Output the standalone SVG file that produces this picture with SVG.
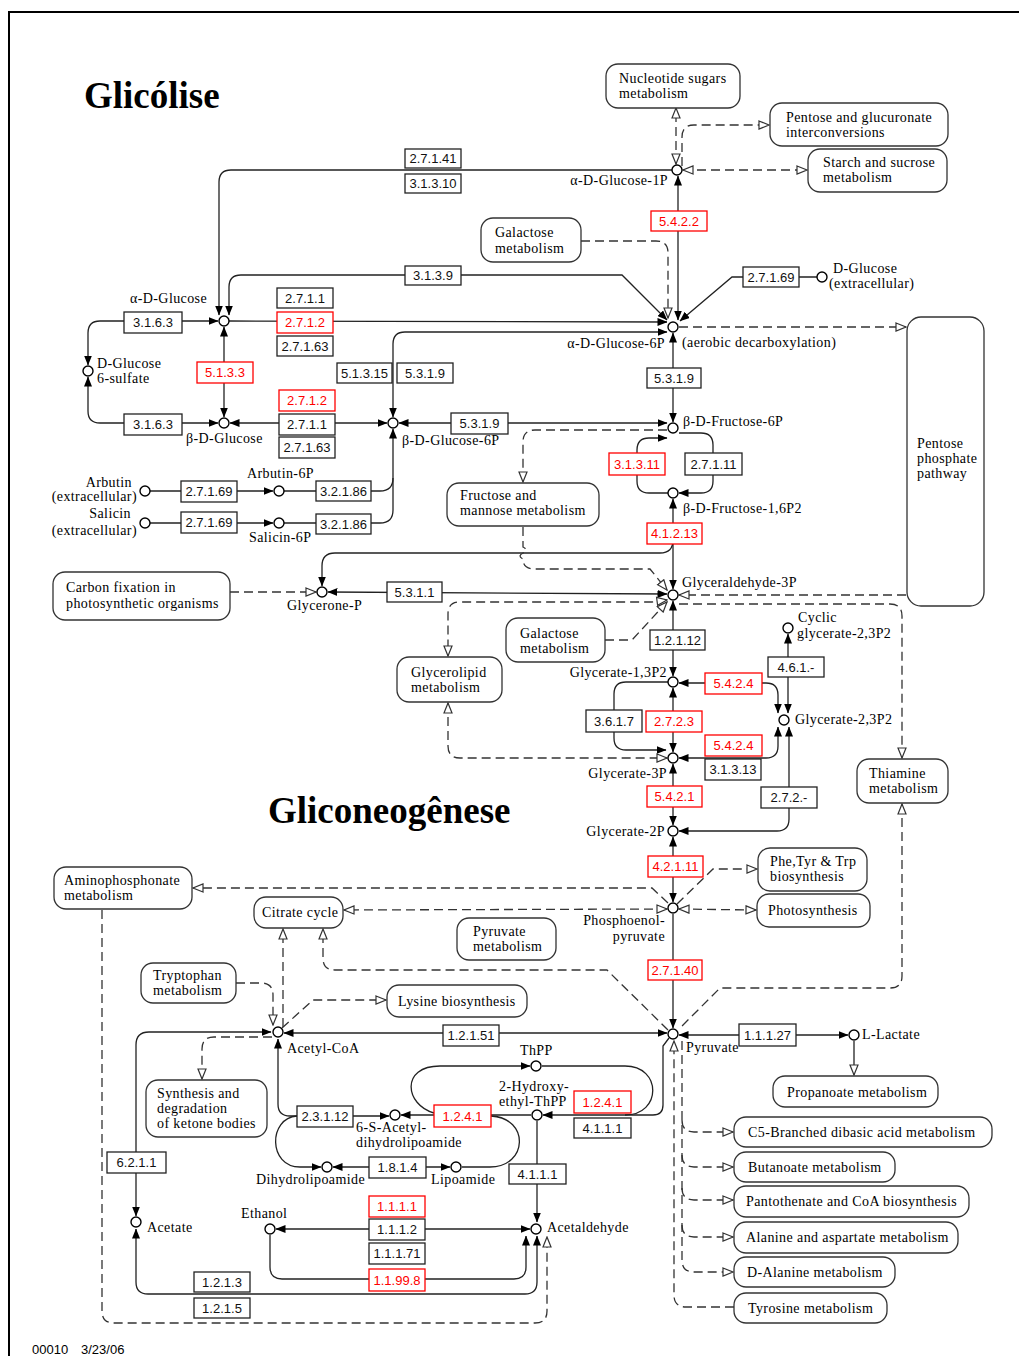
<svg xmlns="http://www.w3.org/2000/svg" width="1019" height="1356" viewBox="0 0 1019 1356">
<style>
.lbl{font-family:"Liberation Serif","Times New Roman",serif;font-size:14px;letter-spacing:0.4px;fill:#000}
.ttl{font-family:"Liberation Serif","Times New Roman",serif;font-size:37px;font-weight:bold;fill:#000}
.ec{font-family:"Liberation Sans",Arial,sans-serif;font-size:13px;text-anchor:middle;fill:#111}
.eb rect{fill:#fff;stroke:#222;stroke-width:1.3}
.eb.r rect{stroke:#f00}
.eb.r text{fill:#f00}
.mp rect{fill:#fff;stroke:#333;stroke-width:1.3}
.cpd circle{fill:#fff;stroke:#000;stroke-width:1.4}
.c{fill:none;stroke:#222;stroke-width:1.3}
.d{fill:none;stroke:#333;stroke-width:1.3;stroke-dasharray:9 5}
.ft{font-family:"Liberation Sans",Arial,sans-serif;font-size:13px;fill:#000}
</style>
<defs>
<marker id="s" viewBox="0 0 10 8" refX="9.5" refY="4" markerWidth="10" markerHeight="8" orient="auto-start-reverse" markerUnits="userSpaceOnUse"><path d="M0,0 L10,4 L0,8 z" fill="#000"/></marker>
<marker id="o" viewBox="0 0 12 10" refX="11" refY="5" markerWidth="12" markerHeight="10" orient="auto-start-reverse" markerUnits="userSpaceOnUse"><path d="M1,1 L11,5 L1,9 z" fill="#fff" stroke="#333" stroke-width="1.2"/></marker>
</defs>
<rect width="1019" height="1356" fill="#fff"/>
<path d="M9 1356 L9 12 L1019 12" fill="none" stroke="#000" stroke-width="2"/>
<text class="ttl" x="84" y="108">Glicólise</text>
<text class="ttl" x="268" y="823">Gliconeogênese</text>
<text class="ft" x="32" y="1354">00010</text>
<text class="ft" x="81" y="1354">3/23/06</text>

<g id="connectors">
<path class="c" d="M672 170 L231 170 Q219 170 219 182 L219 315" marker-end="url(#s)"/>
<path class="c" d="M229 315 L229 287 Q229 275 241 275 L622 275 L667 320" marker-start="url(#s)" marker-end="url(#s)"/>
<path class="c" d="M229 321 L667 322" marker-end="url(#s)"/>
<path class="c" d="M667 332 L405 332 Q393 332 393 344 L393 417" marker-start="url(#s)" marker-end="url(#s)"/>
<path class="c" d="M678 176 L678 320" marker-start="url(#s)" marker-end="url(#s)"/>
<path class="c" d="M817 277 L732 277 L680 321" marker-end="url(#s)"/>
<path class="c" d="M673 333 L673 422" marker-start="url(#s)" marker-end="url(#s)"/>
<path class="c" d="M399 423 L667 423" marker-start="url(#s)" marker-end="url(#s)"/>
<path class="c" d="M88 365 L88 333 Q88 321 100 321 L218 321" marker-start="url(#s)" marker-end="url(#s)"/>
<path class="c" d="M88 377 L88 411 Q88 423 100 423 L218 423" marker-start="url(#s)" marker-end="url(#s)"/>
<path class="c" d="M224 327 L224 417" marker-start="url(#s)" marker-end="url(#s)"/>
<path class="c" d="M230 423 L387 423" marker-start="url(#s)" marker-end="url(#s)"/>
<path class="c" d="M150 491 L273 491" marker-end="url(#s)"/>
<path class="c" d="M150 523 L273 523" marker-end="url(#s)"/>
<path class="c" d="M284 491 L380 491 Q393 491 393 478 L393 429" marker-end="url(#s)"/>
<path class="c" d="M284 523 L380 523 Q393 523 393 510 L393 478"/>
<path class="c" d="M668 493 L649 493 Q637 493 637 481 L637 450 Q637 438 649 438 L667 438" marker-end="url(#s)"/>
<path class="c" d="M679 433 L701 433 Q713 433 713 445 L713 481 Q713 493 701 493 L679 493" marker-end="url(#s)"/>
<path class="c" d="M673 499 L673 589" marker-start="url(#s)" marker-end="url(#s)"/>
<path class="c" d="M673 540 Q673 553 660 553 L335 553 Q322 553 322 566 L322 586" marker-end="url(#s)"/>
<path class="c" d="M328 592 L667 594" marker-start="url(#s)" marker-end="url(#s)"/>
<path class="c" d="M673 601 L673 676" marker-start="url(#s)" marker-end="url(#s)"/>
<path class="c" d="M673 688 L673 752" marker-start="url(#s)" marker-end="url(#s)"/>
<path class="c" d="M668 682 L626 682 Q614 682 614 694 L614 738 Q614 750 626 750 L666 750" marker-end="url(#s)"/>
<path class="c" d="M679 683 L766 683 Q778 683 778 695 L778 713" marker-start="url(#s)" marker-end="url(#s)"/>
<path class="c" d="M788 634 L788 713" marker-start="url(#s)" marker-end="url(#s)"/>
<path class="c" d="M778 727 L778 746 Q778 758 766 758 L679 758" marker-start="url(#s)" marker-end="url(#s)"/>
<path class="c" d="M789 727 L789 819 Q789 831 777 831 L679 831" marker-start="url(#s)" marker-end="url(#s)"/>
<path class="c" d="M673 764 L673 825" marker-start="url(#s)" marker-end="url(#s)"/>
<path class="c" d="M673 837 L673 902" marker-start="url(#s)" marker-end="url(#s)"/>
<path class="c" d="M673 914 L673 1028" marker-end="url(#s)"/>
<path class="c" d="M284 1033 L667 1033" marker-start="url(#s)" marker-end="url(#s)"/>
<path class="c" d="M679 1035 L848 1035" marker-start="url(#s)" marker-end="url(#s)"/>
<path class="c" d="M136 1216 L136 1045 Q136 1032 149 1032 L271 1032" marker-start="url(#s)" marker-end="url(#s)"/>
<path class="c" d="M278 1039 L278 1104 Q278 1116 290 1116 L389 1116" marker-start="url(#s)" marker-end="url(#s)"/>
<path class="c" d="M297 1116 C268 1118 268 1167 300 1167 L321 1167" marker-end="url(#s)"/>
<path class="c" d="M401 1115 L531 1115" marker-start="url(#s)"/>
<path class="c" d="M434 1113 C405 1105 400 1066 440 1066 L530 1066" marker-end="url(#s)"/>
<path class="c" d="M542 1066 L625 1066 C662 1066 662 1115 625 1115"/>
<path class="c" d="M491 1116 C530 1118 528 1167 490 1167 L462 1167"/>
<path class="c" d="M669 1038 L663 1046 L663 1105 Q663 1115 653 1115 L543 1115" marker-end="url(#s)"/>
<path class="c" d="M333 1167 L450 1167" marker-start="url(#s)" marker-end="url(#s)"/>
<path class="c" d="M537 1121 L537 1222" marker-end="url(#s)"/>
<path class="c" d="M276 1229 L530 1229" marker-start="url(#s)" marker-end="url(#s)"/>
<path class="c" d="M270 1235 L270 1267 Q270 1279 282 1279 L514 1279 Q526 1279 526 1267 L526 1236" marker-end="url(#s)"/>
<path class="c" d="M136 1229 L136 1282 Q136 1294 148 1294 L525 1294 Q537 1294 537 1282 L537 1236" marker-start="url(#s)" marker-end="url(#s)"/>
<path class="c" d="M854 1041 L854 1075" marker-end="url(#o)"/>
<path class="d" d="M676 164 L676 108" marker-start="url(#o)" marker-end="url(#o)"/>
<path class="d" d="M682 166 L682 137 Q682 125 694 125 L769 125" marker-end="url(#o)"/>
<path class="d" d="M683 170 L807 170" marker-start="url(#o)" marker-end="url(#o)"/>
<path class="d" d="M581 241 L656 241 Q668 241 668 253 L668 318" marker-end="url(#o)"/>
<path class="d" d="M679 327 L906 327" marker-end="url(#o)"/>
<path class="d" d="M906 595 L679 595" marker-end="url(#o)"/>
<path class="d" d="M679 604 L890 604 Q902 604 902 616 L902 758" marker-end="url(#o)"/>
<path class="d" d="M902 804 L902 976 Q902 988 890 988 L720 988 L679 1029" marker-start="url(#o)"/>
<path class="d" d="M667 600 L652 602 L460 602 Q448 602 448 614 L448 656" marker-start="url(#o)" marker-end="url(#o)"/>
<path class="d" d="M605 640 L632 640 L667 602" marker-end="url(#o)"/>
<path class="d" d="M523 527 L523 547 Q529 550 523 553 Q517 556 523 559 Q523 569 535 569 L650 569 L667 590" marker-end="url(#o)"/>
<path class="d" d="M667 430 L535 430 Q523 430 523 442 L523 482" marker-end="url(#o)"/>
<path class="d" d="M230 592 L316 592" marker-end="url(#o)"/>
<path class="d" d="M448 703 L448 746 Q448 758 460 758 L667 758" marker-start="url(#o)" marker-end="url(#o)"/>
<path class="d" d="M679 909 L756 910" marker-start="url(#o)" marker-end="url(#o)"/>
<path class="d" d="M677 904 L713 869 L757 869" marker-end="url(#o)"/>
<path class="d" d="M667 909 L344 910" marker-start="url(#o)" marker-end="url(#o)"/>
<path class="d" d="M668 903 L652 888 L193 888" marker-end="url(#o)"/>
<path class="d" d="M102 910 L102 1311 Q102 1323 114 1323 L535 1323 Q547 1323 547 1311 L547 1237" marker-end="url(#o)"/>
<path class="d" d="M668 1030 L607 970 L335 970 Q323 970 323 958 L323 929" marker-end="url(#o)"/>
<path class="d" d="M283 1027 L283 929" marker-end="url(#o)"/>
<path class="d" d="M236 983 L261 983 Q273 983 273 995 L273 1025" marker-end="url(#o)"/>
<path class="d" d="M282 1028 L313 1000 L386 1000" marker-end="url(#o)"/>
<path class="d" d="M272 1037 L214 1037 Q202 1037 202 1049 L202 1079" marker-end="url(#o)"/>
<path class="d" d="M682 1041 L682 1260 Q682 1272 694 1272 L733 1272" marker-end="url(#o)"/>
<path class="d" d="M682 1120 Q682 1132 694 1132 L733 1132" marker-end="url(#o)"/>
<path class="d" d="M682 1155 Q682 1167 694 1167 L733 1167" marker-end="url(#o)"/>
<path class="d" d="M682 1188 Q682 1200 694 1200 L733 1200" marker-end="url(#o)"/>
<path class="d" d="M682 1225 Q682 1237 694 1237 L733 1237" marker-end="url(#o)"/>
<path class="d" d="M734 1307 L686 1307 Q674 1307 674 1295 L674 1041" marker-end="url(#o)"/>
</g>

<g id="m_nucleotide" class="mp"><rect x="606" y="64" width="134" height="44" rx="12"/><text class="lbl" x="619" y="83">Nucleotide sugars</text><text class="lbl" x="619" y="98">metabolism</text></g>
<g id="m_pentose_gluc" class="mp"><rect x="770" y="103" width="178" height="43" rx="12"/><text class="lbl" x="786" y="122">Pentose and glucuronate</text><text class="lbl" x="786" y="137">interconversions</text></g>
<g id="m_starch" class="mp"><rect x="808" y="149" width="139" height="43" rx="12"/><text class="lbl" x="823" y="167">Starch and sucrose</text><text class="lbl" x="823" y="182">metabolism</text></g>
<g id="m_galactose1" class="mp"><rect x="481" y="218" width="100" height="44" rx="12"/><text class="lbl" x="495" y="237">Galactose</text><text class="lbl" x="495" y="253">metabolism</text></g>
<g id="m_ppp" class="mp"><rect x="907" y="317" width="77" height="289" rx="14"/><text class="lbl" x="917" y="448">Pentose</text><text class="lbl" x="917" y="463">phosphate</text><text class="lbl" x="917" y="478">pathway</text></g>
<g id="m_fructose" class="mp"><rect x="447" y="483" width="152" height="43" rx="12"/><text class="lbl" x="460" y="500">Fructose and</text><text class="lbl" x="460" y="515">mannose metabolism</text></g>
<g id="m_carbon" class="mp"><rect x="53" y="572" width="177" height="48" rx="12"/><text class="lbl" x="66" y="592">Carbon fixation in</text><text class="lbl" x="66" y="608">photosynthetic organisms</text></g>
<g id="m_galactose2" class="mp"><rect x="506" y="618" width="99" height="44" rx="12"/><text class="lbl" x="520" y="638">Galactose</text><text class="lbl" x="520" y="653">metabolism</text></g>
<g id="m_glycerolipid" class="mp"><rect x="397" y="657" width="105" height="45" rx="12"/><text class="lbl" x="411" y="677">Glycerolipid</text><text class="lbl" x="411" y="692">metabolism</text></g>
<g id="m_thiamine" class="mp"><rect x="857" y="759" width="91" height="44" rx="12"/><text class="lbl" x="869" y="778">Thiamine</text><text class="lbl" x="869" y="793">metabolism</text></g>
<g id="m_phetyr" class="mp"><rect x="758" y="848" width="109" height="43" rx="12"/><text class="lbl" x="770" y="866">Phe,Tyr &amp; Trp</text><text class="lbl" x="770" y="881">biosynthesis</text></g>
<g id="m_photo" class="mp"><rect x="757" y="894" width="113" height="33" rx="12"/><text class="lbl" x="768" y="915">Photosynthesis</text></g>
<g id="m_aminophos" class="mp"><rect x="54" y="867" width="138" height="42" rx="12"/><text class="lbl" x="64" y="885">Aminophosphonate</text><text class="lbl" x="64" y="900">metabolism</text></g>
<g id="m_citrate" class="mp"><rect x="254" y="897" width="89" height="31" rx="12"/><text class="lbl" x="262" y="917">Citrate cycle</text></g>
<g id="m_pyruvate" class="mp"><rect x="457" y="918" width="99" height="42" rx="12"/><text class="lbl" x="473" y="936">Pyruvate</text><text class="lbl" x="473" y="951">metabolism</text></g>
<g id="m_tryptophan" class="mp"><rect x="141" y="963" width="95" height="40" rx="12"/><text class="lbl" x="153" y="980">Tryptophan</text><text class="lbl" x="153" y="995">metabolism</text></g>
<g id="m_lysine" class="mp"><rect x="387" y="985" width="140" height="32" rx="12"/><text class="lbl" x="398" y="1006">Lysine biosynthesis</text></g>
<g id="m_ketone" class="mp"><rect x="146" y="1080" width="121" height="57" rx="12"/><text class="lbl" x="157" y="1098">Synthesis and</text><text class="lbl" x="157" y="1113">degradation</text><text class="lbl" x="157" y="1128">of ketone bodies</text></g>
<g id="m_propanoate" class="mp"><rect x="773" y="1076" width="165" height="31" rx="12"/><text class="lbl" x="787" y="1097">Propanoate metabolism</text></g>
<g id="m_c5" class="mp"><rect x="734" y="1117" width="258" height="30" rx="12"/><text class="lbl" x="748" y="1137">C5-Branched dibasic acid metabolism</text></g>
<g id="m_butanoate" class="mp"><rect x="734" y="1152" width="161" height="30" rx="12"/><text class="lbl" x="748" y="1172">Butanoate metabolism</text></g>
<g id="m_pantothenate" class="mp"><rect x="734" y="1186" width="235" height="31" rx="12"/><text class="lbl" x="746" y="1206">Pantothenate and CoA biosynthesis</text></g>
<g id="m_alanine" class="mp"><rect x="734" y="1222" width="224" height="31" rx="12"/><text class="lbl" x="746" y="1242">Alanine and aspartate metabolism</text></g>
<g id="m_dalanine" class="mp"><rect x="734" y="1257" width="161" height="30" rx="12"/><text class="lbl" x="747" y="1277">D-Alanine metabolism</text></g>
<g id="m_tyrosine" class="mp"><rect x="734" y="1293" width="153" height="30" rx="12"/><text class="lbl" x="748" y="1313">Tyrosine metabolism</text></g>

<g id="e1" class="eb"><rect x="405" y="149" width="56" height="19"/><text class="ec" x="433" y="163">2.7.1.41</text></g>
<g id="e2" class="eb"><rect x="405" y="174" width="56" height="19"/><text class="ec" x="433" y="188">3.1.3.10</text></g>
<g id="e3" class="eb r"><rect x="651" y="211" width="56" height="20"/><text class="ec" x="679" y="225.5">5.4.2.2</text></g>
<g id="e4" class="eb"><rect x="405" y="266" width="56" height="19"/><text class="ec" x="433" y="280">3.1.3.9</text></g>
<g id="e5" class="eb"><rect x="743" y="267" width="56" height="20"/><text class="ec" x="771" y="281.5">2.7.1.69</text></g>
<g id="e6" class="eb"><rect x="277" y="288" width="56" height="20"/><text class="ec" x="305" y="302.5">2.7.1.1</text></g>
<g id="e7" class="eb r"><rect x="277" y="312" width="56" height="21"/><text class="ec" x="305" y="327">2.7.1.2</text></g>
<g id="e8" class="eb"><rect x="277" y="336" width="56" height="20"/><text class="ec" x="305" y="350.5">2.7.1.63</text></g>
<g id="e9" class="eb"><rect x="124" y="312" width="58" height="21"/><text class="ec" x="153" y="327">3.1.6.3</text></g>
<g id="e10" class="eb r"><rect x="197" y="362" width="56" height="21"/><text class="ec" x="225" y="377">5.1.3.3</text></g>
<g id="e11" class="eb"><rect x="337" y="363" width="55" height="20"/><text class="ec" x="364.5" y="377.5">5.1.3.15</text></g>
<g id="e12" class="eb"><rect x="397" y="363" width="56" height="20"/><text class="ec" x="425" y="377.5">5.3.1.9</text></g>
<g id="e13" class="eb"><rect x="647" y="368" width="54" height="20"/><text class="ec" x="674" y="382.5">5.3.1.9</text></g>
<g id="e14" class="eb r"><rect x="279" y="390" width="56" height="21"/><text class="ec" x="307" y="405">2.7.1.2</text></g>
<g id="e15" class="eb"><rect x="279" y="414" width="56" height="21"/><text class="ec" x="307" y="429">2.7.1.1</text></g>
<g id="e16" class="eb"><rect x="279" y="437" width="56" height="21"/><text class="ec" x="307" y="452">2.7.1.63</text></g>
<g id="e17" class="eb"><rect x="124" y="414" width="58" height="21"/><text class="ec" x="153" y="429">3.1.6.3</text></g>
<g id="e18" class="eb"><rect x="451" y="413" width="57" height="21"/><text class="ec" x="479.5" y="428">5.3.1.9</text></g>
<g id="e19" class="eb"><rect x="181" y="481" width="56" height="21"/><text class="ec" x="209" y="496">2.7.1.69</text></g>
<g id="e20" class="eb"><rect x="316" y="481" width="55" height="20"/><text class="ec" x="343.5" y="495.5">3.2.1.86</text></g>
<g id="e21" class="eb"><rect x="181" y="512" width="56" height="21"/><text class="ec" x="209" y="527">2.7.1.69</text></g>
<g id="e22" class="eb"><rect x="316" y="514" width="55" height="20"/><text class="ec" x="343.5" y="528.5">3.2.1.86</text></g>
<g id="e23" class="eb r"><rect x="609" y="453" width="56" height="22"/><text class="ec" x="637" y="468.5">3.1.3.11</text></g>
<g id="e24" class="eb"><rect x="685" y="453" width="57" height="22"/><text class="ec" x="713.5" y="468.5">2.7.1.11</text></g>
<g id="e25" class="eb r"><rect x="647" y="523" width="55" height="21"/><text class="ec" x="674.5" y="538">4.1.2.13</text></g>
<g id="e26" class="eb"><rect x="387" y="582" width="55" height="20"/><text class="ec" x="414.5" y="596.5">5.3.1.1</text></g>
<g id="e27" class="eb"><rect x="650" y="630" width="55" height="20"/><text class="ec" x="677.5" y="644.5">1.2.1.12</text></g>
<g id="e28" class="eb"><rect x="768" y="657" width="56" height="20"/><text class="ec" x="796" y="671.5">4.6.1.-</text></g>
<g id="e29" class="eb r"><rect x="705" y="673" width="57" height="21"/><text class="ec" x="733.5" y="688">5.4.2.4</text></g>
<g id="e30" class="eb"><rect x="586" y="710" width="56" height="22"/><text class="ec" x="614" y="725.5">3.6.1.7</text></g>
<g id="e31" class="eb r"><rect x="646" y="711" width="56" height="21"/><text class="ec" x="674" y="726">2.7.2.3</text></g>
<g id="e32" class="eb r"><rect x="705" y="735" width="57" height="21"/><text class="ec" x="733.5" y="750">5.4.2.4</text></g>
<g id="e33" class="eb"><rect x="705" y="759" width="56" height="21"/><text class="ec" x="733" y="774">3.1.3.13</text></g>
<g id="e34" class="eb r"><rect x="647" y="786" width="55" height="21"/><text class="ec" x="674.5" y="801">5.4.2.1</text></g>
<g id="e35" class="eb"><rect x="761" y="787" width="56" height="21"/><text class="ec" x="789" y="802">2.7.2.-</text></g>
<g id="e36" class="eb r"><rect x="648" y="856" width="55" height="21"/><text class="ec" x="675.5" y="871">4.2.1.11</text></g>
<g id="e37" class="eb r"><rect x="648" y="960" width="54" height="20"/><text class="ec" x="675" y="974.5">2.7.1.40</text></g>
<g id="e38" class="eb"><rect x="443" y="1025" width="56" height="21"/><text class="ec" x="471" y="1040">1.2.1.51</text></g>
<g id="e39" class="eb"><rect x="739" y="1024" width="57" height="22"/><text class="ec" x="767.5" y="1039.5">1.1.1.27</text></g>
<g id="e40" class="eb"><rect x="297" y="1106" width="56" height="21"/><text class="ec" x="325" y="1121">2.3.1.12</text></g>
<g id="e41" class="eb r"><rect x="434" y="1105" width="57" height="22"/><text class="ec" x="462.5" y="1120.5">1.2.4.1</text></g>
<g id="e42" class="eb r"><rect x="574" y="1091" width="57" height="22"/><text class="ec" x="602.5" y="1106.5">1.2.4.1</text></g>
<g id="e43" class="eb"><rect x="574" y="1118" width="57" height="20"/><text class="ec" x="602.5" y="1132.5">4.1.1.1</text></g>
<g id="e44" class="eb"><rect x="369" y="1157" width="57" height="21"/><text class="ec" x="397.5" y="1172">1.8.1.4</text></g>
<g id="e45" class="eb"><rect x="509" y="1164" width="57" height="20"/><text class="ec" x="537.5" y="1178.5">4.1.1.1</text></g>
<g id="e46" class="eb"><rect x="107" y="1152" width="59" height="21"/><text class="ec" x="136.5" y="1167">6.2.1.1</text></g>
<g id="e47" class="eb r"><rect x="369" y="1196" width="56" height="21"/><text class="ec" x="397" y="1211">1.1.1.1</text></g>
<g id="e48" class="eb"><rect x="369" y="1219" width="56" height="21"/><text class="ec" x="397" y="1234">1.1.1.2</text></g>
<g id="e49" class="eb"><rect x="369" y="1243" width="56" height="21"/><text class="ec" x="397" y="1258">1.1.1.71</text></g>
<g id="e50" class="eb r"><rect x="369" y="1269" width="56" height="22"/><text class="ec" x="397" y="1284.5">1.1.99.8</text></g>
<g id="e51" class="eb"><rect x="194" y="1272" width="56" height="20"/><text class="ec" x="222" y="1286.5">1.2.1.3</text></g>
<g id="e52" class="eb"><rect x="194" y="1298" width="56" height="20"/><text class="ec" x="222" y="1312.5">1.2.1.5</text></g>

<g id="c_glc1p" class="cpd"><circle cx="677" cy="170" r="5"/><text class="lbl" x="668" y="185" text-anchor="end">α-D-Glucose-1P</text></g>
<g id="c_glc6p" class="cpd"><circle cx="673" cy="327" r="5"/><text class="lbl" x="665" y="348" text-anchor="end">α-D-Glucose-6P</text><text class="lbl" x="682" y="347">(aerobic decarboxylation)</text></g>
<g id="c_aglc" class="cpd"><circle cx="224" cy="321" r="5"/><text class="lbl" x="130" y="303">α-D-Glucose</text></g>
<g id="c_bglc" class="cpd"><circle cx="224" cy="423" r="5"/><text class="lbl" x="186" y="443">β-D-Glucose</text></g>
<g id="c_g6s" class="cpd"><circle cx="88" cy="371" r="5"/><text class="lbl" x="97" y="368">D-Glucose</text><text class="lbl" x="97" y="383">6-sulfate</text></g>
<g id="c_bg6p" class="cpd"><circle cx="393" cy="423" r="5"/><text class="lbl" x="402" y="445">β-D-Glucose-6P</text></g>
<g id="c_f6p" class="cpd"><circle cx="673" cy="428" r="5"/><text class="lbl" x="683" y="426">β-D-Fructose-6P</text></g>
<g id="c_f16p" class="cpd"><circle cx="673" cy="493" r="5"/><text class="lbl" x="683" y="513">β-D-Fructose-1,6P2</text></g>
<g id="c_arb" class="cpd"><circle cx="145" cy="491" r="5"/><text class="lbl" x="132" y="487" text-anchor="end">Arbutin</text><text class="lbl" x="137" y="501" text-anchor="end">(extracellular)</text></g>
<g id="c_arb6p" class="cpd"><circle cx="279" cy="491" r="5"/><text class="lbl" x="247" y="478">Arbutin-6P</text></g>
<g id="c_sal" class="cpd"><circle cx="145" cy="523" r="5"/><text class="lbl" x="131" y="518" text-anchor="end">Salicin</text><text class="lbl" x="137" y="535" text-anchor="end">(extracellular)</text></g>
<g id="c_sal6p" class="cpd"><circle cx="279" cy="523" r="5"/><text class="lbl" x="249" y="542">Salicin-6P</text></g>
<g id="c_dglcex" class="cpd"><circle cx="822" cy="277" r="5"/><text class="lbl" x="833" y="273">D-Glucose</text><text class="lbl" x="829" y="288">(extracellular)</text></g>
<g id="c_g3p" class="cpd"><circle cx="673" cy="595" r="5"/><text class="lbl" x="682" y="587">Glyceraldehyde-3P</text></g>
<g id="c_glycerone" class="cpd"><circle cx="322" cy="592" r="5"/><text class="lbl" x="287" y="610">Glycerone-P</text></g>
<g id="c_cyclic" class="cpd"><circle cx="788" cy="628" r="5"/><text class="lbl" x="798" y="622">Cyclic</text><text class="lbl" x="797" y="638">glycerate-2,3P2</text></g>
<g id="c_g13p" class="cpd"><circle cx="673" cy="682" r="5"/><text class="lbl" x="667" y="677" text-anchor="end">Glycerate-1,3P2</text></g>
<g id="c_g23p" class="cpd"><circle cx="784" cy="720" r="5"/><text class="lbl" x="795" y="724">Glycerate-2,3P2</text></g>
<g id="c_gly3p" class="cpd"><circle cx="673" cy="758" r="5"/><text class="lbl" x="667" y="778" text-anchor="end">Glycerate-3P</text></g>
<g id="c_gly2p" class="cpd"><circle cx="673" cy="831" r="5"/><text class="lbl" x="665" y="836" text-anchor="end">Glycerate-2P</text></g>
<g id="c_pep" class="cpd"><circle cx="673" cy="908" r="5"/><text class="lbl" x="665" y="925" text-anchor="end">Phosphoenol-</text><text class="lbl" x="665" y="941" text-anchor="end">pyruvate</text></g>
<g id="c_pyr" class="cpd"><circle cx="673" cy="1034" r="5"/><text class="lbl" x="686" y="1052">Pyruvate</text></g>
<g id="c_lac" class="cpd"><circle cx="854" cy="1035" r="5"/><text class="lbl" x="862" y="1039">L-Lactate</text></g>
<g id="c_accoa" class="cpd"><circle cx="278" cy="1032" r="5"/><text class="lbl" x="287" y="1053">Acetyl-CoA</text></g>
<g id="c_thpp" class="cpd"><circle cx="536" cy="1066" r="5"/><text class="lbl" x="520" y="1055">ThPP</text></g>
<g id="c_hetpp" class="cpd"><circle cx="537" cy="1115" r="5"/><text class="lbl" x="499" y="1091">2-Hydroxy-</text><text class="lbl" x="499" y="1106">ethyl-ThPP</text></g>
<g id="c_sac" class="cpd"><circle cx="395" cy="1115" r="5"/><text class="lbl" x="356" y="1132">6-S-Acetyl-</text><text class="lbl" x="356" y="1147">dihydrolipoamide</text></g>
<g id="c_dhl" class="cpd"><circle cx="327" cy="1167" r="5"/><text class="lbl" x="256" y="1184">Dihydrolipoamide</text></g>
<g id="c_lip" class="cpd"><circle cx="456" cy="1167" r="5"/><text class="lbl" x="431" y="1184">Lipoamide</text></g>
<g id="c_acetate" class="cpd"><circle cx="136" cy="1222" r="5"/><text class="lbl" x="147" y="1232">Acetate</text></g>
<g id="c_ethanol" class="cpd"><circle cx="270" cy="1229" r="5"/><text class="lbl" x="241" y="1218">Ethanol</text></g>
<g id="c_acald" class="cpd"><circle cx="536" cy="1229" r="5"/><text class="lbl" x="547" y="1232">Acetaldehyde</text></g>
</svg>
